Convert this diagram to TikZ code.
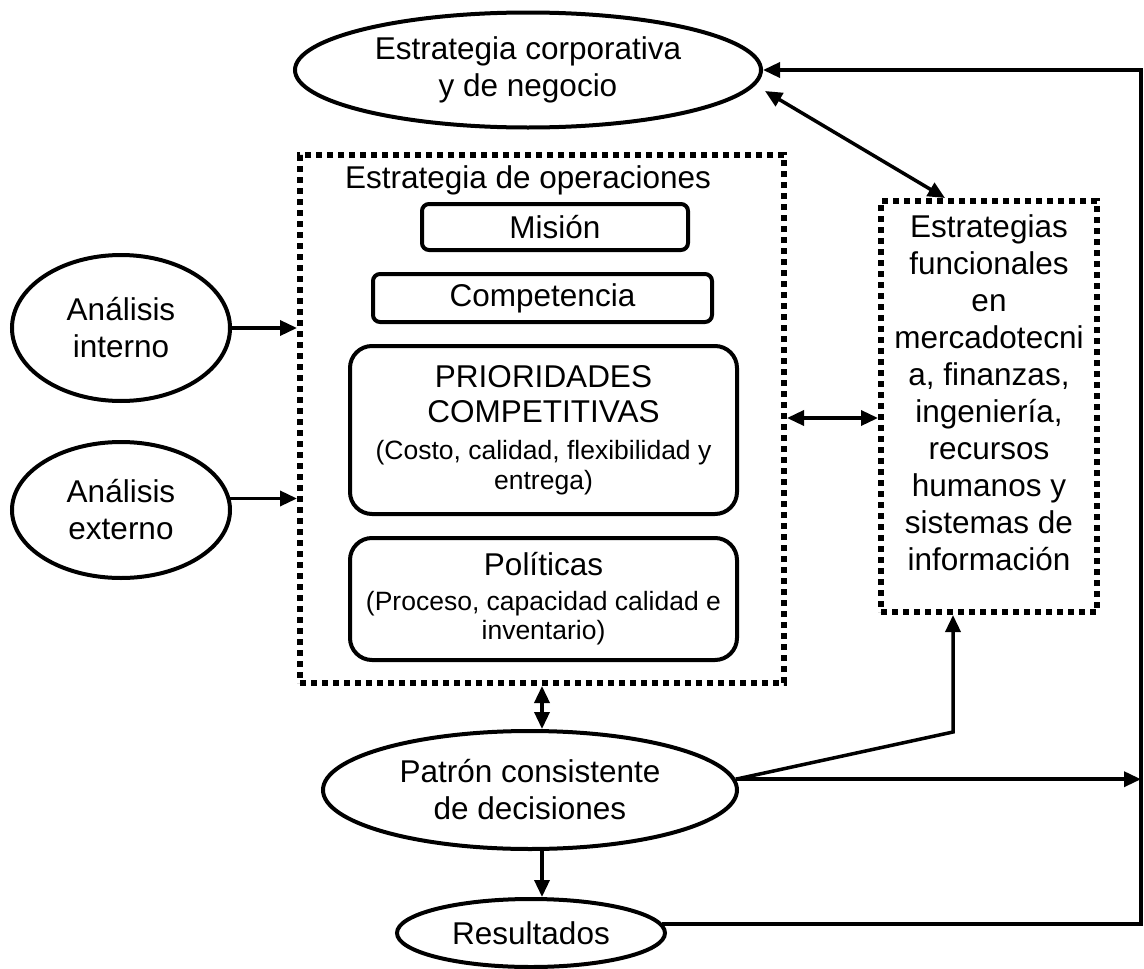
\documentclass[tikz,border=0pt]{standalone}
\usepackage{fontspec}
\setmainfont{Liberation Sans}
\usetikzlibrary{arrows.meta,shapes.geometric,calc}
\newcommand\fbig{\fontsize{31.5}{37}\selectfont}
\newcommand\fsmall{\fontsize{26.5}{30}\selectfont}
\begin{document}
\begin{tikzpicture}[x=1pt,y=-1pt,
  ell/.style={ellipse, draw, line width=4pt, inner sep=0pt, font=\fbig, align=center},
  rbox/.style={draw, rectangle, line width=4pt, rounded corners=7pt, inner sep=0pt, font=\fbig, align=center},
  dotbox/.style={draw, rectangle, line width=6pt, dash pattern=on 6pt off 5pt},
  arr/.style={line width=3.5pt, -{Triangle[length=17pt,width=15pt]}},
  arrtwo/.style={line width=3.5pt, {Triangle[length=17pt,width=15pt]}-{Triangle[length=17pt,width=15pt]}},
  lbl/.style={font=\fbig, align=center, inner sep=0pt}]
\useasboundingbox (0,0) rectangle (1144,969);

\node[ell, minimum width=466pt, minimum height=115pt] (corp) at (528,70) {Estrategia corporativa\\y de negocio};
\node[dotbox, minimum width=484pt, minimum height=528pt] (ops) at (542,419) {};
\node[lbl] (opstitle) at (528,180) {Estrategia de operaciones};
\node[rbox, minimum width=266pt, minimum height=46pt] (mision) at (555,227) {Misión};
\node[rbox, minimum width=339pt, minimum height=48pt] (comp) at (542.5,298) {Competencia};
\node[rbox, rounded corners=22pt, minimum width=387pt, minimum height=168pt] (prio) at (543.5,430)
  {PRIORIDADES\\[-2pt]COMPETITIVAS\\{\fsmall (Costo, calidad, flexibilidad y}\\[-7pt]{\fsmall entrega)}};
\node[rbox, rounded corners=22pt, minimum width=387pt, minimum height=122pt] (pol) at (543.5,599)
  {Políticas\\[-2pt]{\fsmall (Proceso, capacidad calidad e}\\[-8pt]{\fsmall inventario)}};

\node[dotbox, minimum width=216pt, minimum height=411pt] (func) at (989,406.5) {};
\node[lbl] (functxt) at (989,393) {Estrategias\\funcionales\\en\\mercadotecni\\a, finanzas,\\ingeniería,\\recursos\\humanos y\\sistemas de\\información};

\node[ell, minimum width=218pt, minimum height=146pt] (intern) at (121,328) {Análisis\\interno};
\node[ell, minimum width=218pt, minimum height=136pt] (extern) at (121,510) {Análisis\\externo};
\node[ell, minimum width=414pt, minimum height=118pt] (pat) at (530,790) {Patrón consistente\\de decisiones};
\node[ell, minimum width=268pt, minimum height=68pt] (res) at (531,933) {Resultados};

\coordinate (rc) at (1141,0);
\coordinate (kink) at (953,732);
\coordinate (mid) at (0,418);

\draw[arr] (intern.east) -- (intern.east -| ops.west);
\draw[arr] (extern.6) -- (extern.6 -| ops.west);
\draw[arrtwo] (ops.east |- mid) -- (func.west |- mid);
\draw[arrtwo] ($(corp.east)+(2,21)$) -- ($(func.north)+(-44,0)$);
\draw[arrtwo] (ops.south) -- (ops.south |- pat.north);
\draw[arr] (ops.south |- pat.south) -- (ops.south |- res.north);
\draw[arr] (pat.3) -- (pat.3 -| rc);
\draw[arr] (pat.3) -- (kink) -- (kink |- func.south);
\draw[arr] (res.4) -- (res.4 -| rc) -- (rc |- corp.east) -- (corp.east);
\end{tikzpicture}
\end{document}
